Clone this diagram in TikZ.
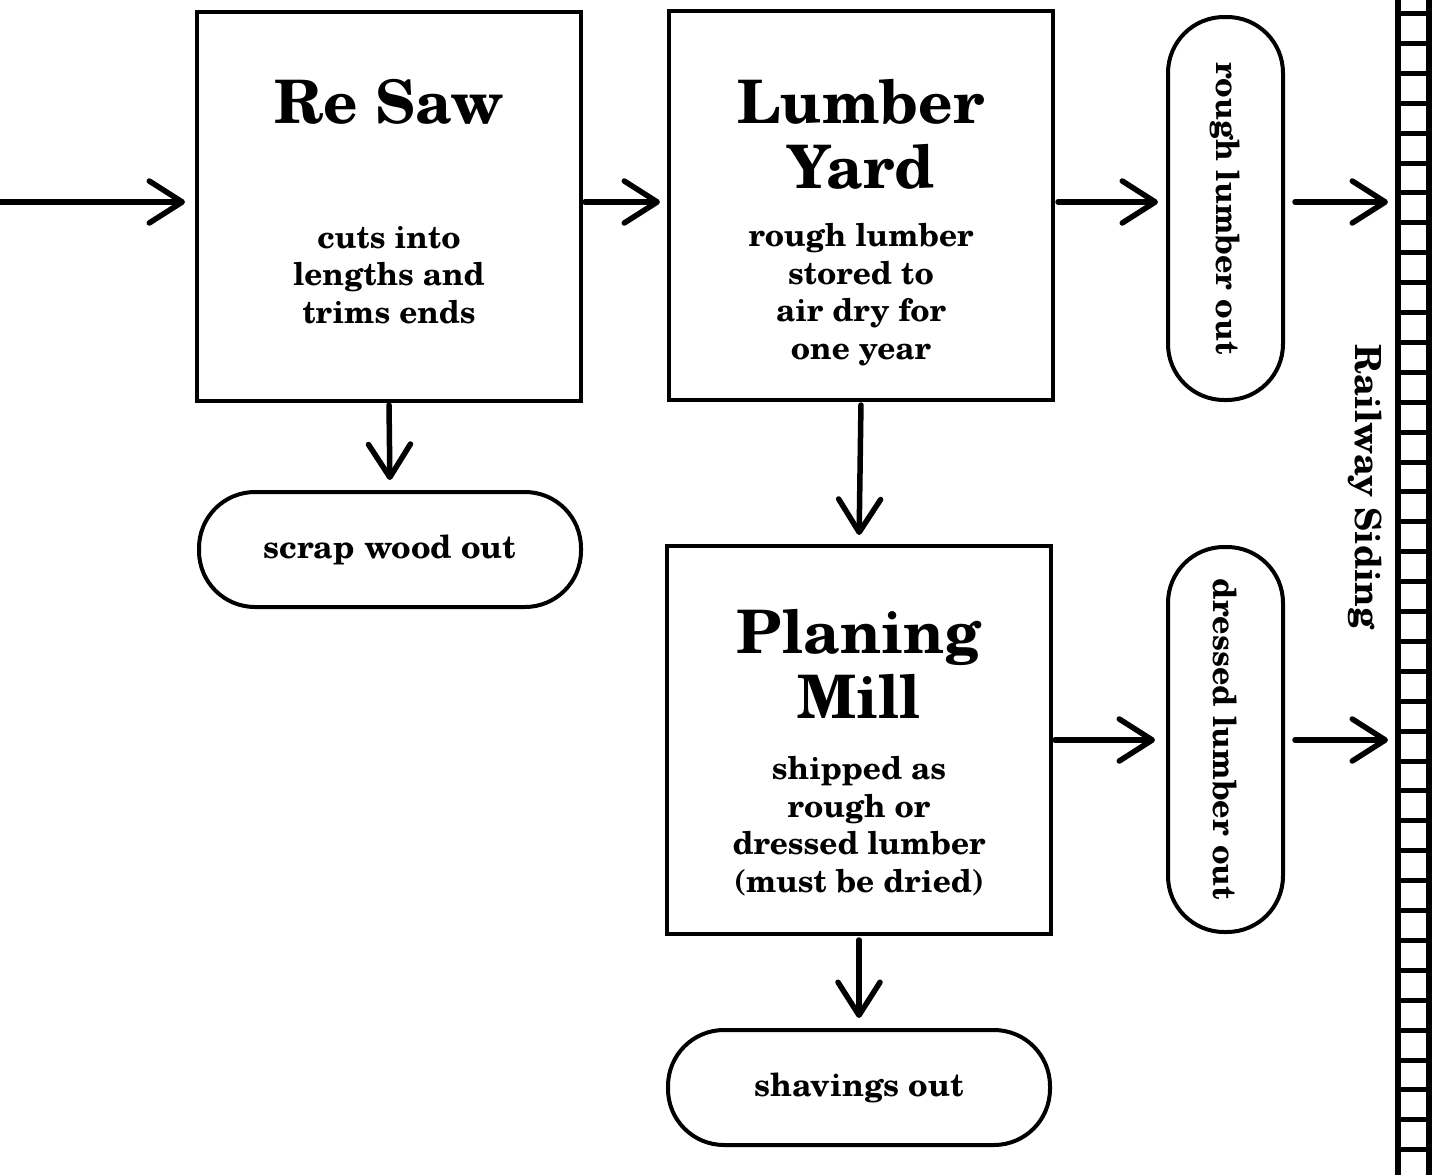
\documentclass[tikz,border=0pt]{standalone}
\usepackage{fontspec}
\setmainfont{texgyreschola-bold.otf}
\usetikzlibrary{arrows.meta}
\begin{document}
\begin{tikzpicture}[x=1pt,y=-1pt,
  box/.style={draw, line width=4pt, minimum width=384pt, minimum height=389pt, inner sep=0pt},
  pill/.style={draw, line width=4pt, rounded corners=56pt, minimum width=382pt, minimum height=115pt, inner sep=0pt, font=\fontsize{32}{38}\selectfont},
  title/.style={font=\fontsize{60}{65}\selectfont, align=center, anchor=base, inner sep=0pt},
  body/.style={font=\fontsize{31.5}{37.5}\selectfont, align=center, anchor=base, inner sep=0pt},
  flow/.style={line width=5.5pt, line cap=round, -{Straight Barb[length=33pt,width=42pt,round]}},
  rail/.style={line width=6pt},
  rung/.style={line width=5pt}]
\useasboundingbox (0,0) rectangle (1444,1175);
% boxes
\node[box] (rs) at (389,206.5) {};
\node[box] (ly) at (861,205.5) {};
\node[box, minimum height=388pt] (pm) at (859,740) {};
\node[pill] (scrap) at (390,549.5) {scrap wood out};
\node[pill] (shav) at (859,1087.5) {shavings out};
\node[pill, rotate=-90, minimum width=383pt] (rough) at (1225.5,208.5) {rough lumber out};
\node[pill, rotate=-90, minimum width=385pt] (dressed) at (1225.5,739.5) {dressed lumber out};
% texts (anchor base = baseline of last line)
\node[title] (rst) at (389,123) {Re Saw};
\node[body] (rsb) at (389,323) {cuts into\\lengths and\\trims ends};
\node[title] (lyt) at (861,188) {Lumber\\Yard};
\node[body] (lyb) at (861,359) {rough lumber\\stored to\\air dry for\\one year};
\node[title] (pmt) at (859,718) {Planing\\Mill};
\node[body] (pmb) at (859,892) {shipped as\\rough or\\dressed lumber\\(must be dried)};
\node[font=\fontsize{36}{38}\selectfont, rotate=-90, inner sep=0pt] (siding) at (1365,487) {Railway Siding};
% railway
\coordinate (railtop) at (1413.5,0);
\coordinate (railbot) at (1413.5,1175);
\draw[rail] ([xshift=-15.5pt]railtop) -- ([xshift=-15.5pt]railbot);
\draw[rail] ([xshift=15.5pt]railtop) -- ([xshift=15.5pt]railbot);
\foreach \n in {0,...,38}{
  \draw[rung] (1398,13.5+29.9*\n) -- (1429,13.5+29.9*\n);
}
\coordinate (in) at (0,202);
\coordinate (r1) at (1395,202);
\coordinate (r2) at (1395,740);
% connectors
\draw[flow, shorten >=10pt] (in) -- (rs.west |- in);
\draw[flow, shorten <=2pt, shorten >=7pt] (rs.east |- in) -- (ly.west |- in);
\draw[flow, shorten <=3pt, shorten >=8pt] (ly.east |- in) -- (rough.south |- in);
\draw[flow, shorten <=10pt, shorten >=7pt] (rough.north |- in) -- (r1);
\draw[flow, shorten <=2pt, shorten >=11pt] (pm.east |- r2) -- (dressed.south |- r2);
\draw[flow, shorten <=10pt, shorten >=7pt] (dressed.north |- r2) -- (r2);
\draw[flow, shorten <=2pt, shorten >=10pt] (rs.south) -- (scrap.north);
\draw[flow, shorten <=3pt, shorten >=9pt] (ly.south) -- (pm.north);
\draw[flow, shorten <=4pt, shorten >=10pt] (pm.south) -- (shav.north);
\end{tikzpicture}
\end{document}
